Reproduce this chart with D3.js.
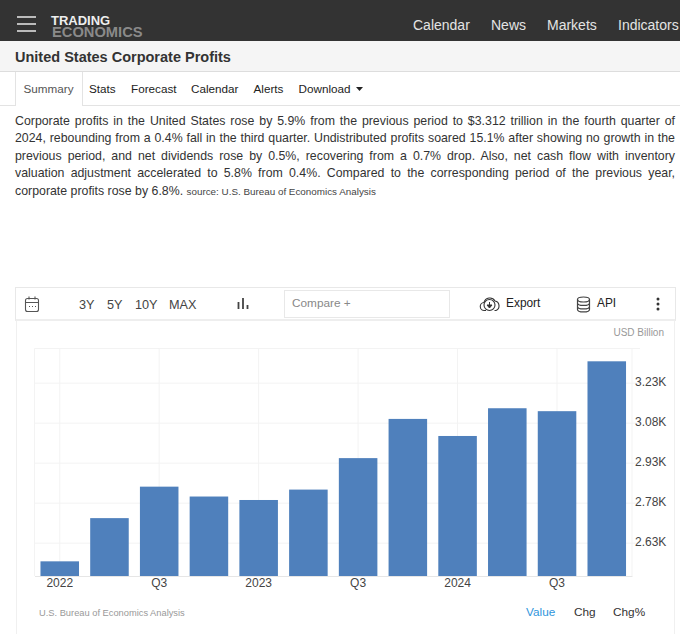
<!DOCTYPE html>
<html>
<head>
<meta charset="utf-8">
<title>United States Corporate Profits</title>
<script src="https://cdn.jsdelivr.net/npm/d3@7"></script>
<style>
	html, body { margin: 0; padding: 0; background: #fff; overflow: hidden; }
	body { font-family: "Liberation Sans", Arial, sans-serif; color: #333; }
	#page { position: relative; width: 680px; height: 634px; overflow: hidden; }
	#page > div, #page > svg, .abs { position: absolute; }
	.abs { white-space: nowrap; }
	#nav { left: 0; top: 0; width: 680px; height: 41px; background: #333; }
	#titleBar { left: 0; top: 41px; width: 680px; height: 30px; background: #f5f5f5; border-bottom: 1px solid #ddd; }
	#tabBar { left: 0; top: 72px; width: 680px; height: 33px; border-bottom: 1px solid #e3e3e3; }
	#activeTab { left: 15px; top: 72px; width: 66px; height: 34px; background: #fff; border-left: 1px solid #e3e3e3; border-right: 1px solid #e3e3e3; }
	#summary { left: 15px; top: 112.5px; width: 660px; font-size: 12.35px; line-height: 17.5px; text-align: justify; color: #333; }
	#summary span { font-size: 9.85px; color: #444; }
	#toolbar { left: 15px; top: 287px; width: 659px; height: 31px; border: 1px solid #e8e8e8; border-bottom: 2px solid #eee; box-sizing: content-box; }
	#compare { left: 284px; top: 290px; width: 164px; height: 26px; border: 1px solid #e8e8e8; }
	#chartBox { left: 16px; top: 320px; width: 657px; height: 314px; border-left: 1px solid #f0f0f0; border-right: 1px solid #f0f0f0; }
</style>
</head>
<body>
<div id="page">
	<div id="nav"></div>
	<div id="titleBar"></div>
	<div id="tabBar"></div>
	<div id="activeTab"></div>
	<div id="summary">Corporate profits in the United States rose by 5.9% from the previous period to $3.312 trillion in the fourth quarter of 2024, rebounding from a 0.4% fall in the third quarter. Undistributed profits soared 15.1% after showing no growth in the previous period, and net dividends rose by 0.5%, recovering from a 0.7% drop. Also, net cash flow with inventory valuation adjustment accelerated to 5.8% from 0.4%. Compared to the corresponding period of the previous year, corporate profits rose by 6.8%. <span>source: U.S. Bureau of Economics Analysis</span></div>
	<div id="chartBox"></div>
	<div id="toolbar"></div>
	<div id="compare"></div>
	<svg id="chart" width="680" height="634" style="left:0;top:0"></svg>
</div>
<script>
// Corporate profits, USD billion
var quarters = ['2022', '2022Q2', '2022Q3', '2022Q4', '2023', '2023Q2', '2023Q3', '2023Q4', '2024', '2024Q2', '2024Q3', '2024Q4'];
var profits = [2562, 2724, 2842, 2805, 2792, 2831, 2949, 3096, 3032, 3136, 3125, 3312];

var tickQuarters = ['2022', '2022Q3', '2023', '2023Q3', '2024', '2024Q3'];
var tickLabels = ['2022', 'Q3', '2023', 'Q3', '2024', 'Q3'];
var yTicks = [2630, 2780, 2930, 3080, 3230];
var yTickLabels = ['2.63K', '2.78K', '2.93K', '3.08K', '3.23K'];

var navLinks = [['Calendar', 413], ['News', 491], ['Markets', 547], ['Indicators', 618]];
var tabs = [['Summary', 23.5, '#555'], ['Stats', 89, '#222'], ['Forecast', 131, '#222'], ['Calendar', 191, '#222'], ['Alerts', 253.5, '#222'], ['Download', 298.5, '#222']];
var ranges = [['3Y', 79], ['5Y', 107], ['10Y', 135], ['MAX', 169]];
var modes = [['Value', 526, '#2f95dc'], ['Chg', 574, '#333'], ['Chg%', 613, '#333']];

var svg = d3.select('#chart');

var x = d3.scaleBand()
	.domain(quarters)
	.range([34.5, 632])
	.paddingInner(0.225)
	.paddingOuter(0.12);

var y = d3.scaleLinear()
	.domain([2507, 3360])
	.range([576, 348.5]);

function label(text, xPos, yPos, size, color, weight) {
	return svg.append('text')
		.attr('x', xPos)
		.attr('y', yPos)
		.attr('font-size', size)
		.attr('fill', color)
		.attr('font-weight', weight || 'normal')
		.text(text);
}

// Page furniture
[17, 24, 31].forEach(function(lineY) {
	svg.append('rect').attr('x', 17).attr('y', lineY - 1).attr('width', 19).attr('height', 2).attr('fill', '#bbb');
});
label('TRADING', 51, 24.5, 13, '#eee', 'bold');
label('ECONOMICS', 52, 36.5, 14.7, '#8a8a8a', 'bold');
navLinks.forEach(function(d) { label(d[0], d[1], 30, 14, '#e4e4e4'); });
label('United States Corporate Profits', 15, 62, 14.5, '#333', 'bold');
tabs.forEach(function(d) { label(d[0], d[1], 92.5, 11.7, d[2]); });
svg.append('path').attr('d', 'M356 87h7l-3.5 4z').attr('fill', '#222');

// Toolbar
ranges.forEach(function(d) { label(d[0], d[1], 308.5, 12.7, '#444'); });
label('Compare +', 292, 306.5, 11.8, '#888');
label('Export', 506, 307, 11.9, '#222');
label('API', 597, 307, 11.9, '#222');

var calendar = svg.append('g').attr('fill', 'none').attr('stroke', '#555').attr('stroke-width', 1.1);
calendar.append('rect').attr('x', 25.5).attr('y', 298.5).attr('width', 13).attr('height', 13).attr('rx', 2);
calendar.append('path').attr('d', 'M25.5 302.5h13M29 296.5v3M35 296.5v3M29 306.5h1M32 306.5h1M35 306.5h1');

svg.append('path').attr('d', 'M238.5 309v-7M243 309v-11M247.5 309v-4').attr('stroke', '#444').attr('stroke-width', 1.8).attr('fill', 'none');

var cloud = svg.append('g').attr('fill', 'none').attr('stroke', '#333').attr('stroke-width', 1.1);
cloud.append('path').attr('d', 'M486 310.5h-1.5a4 4 0 0 1-.5-8a6 6 0 0 1 11-1.5a5 5 0 0 1 1 9.5h-1.5');
svg.append('circle').attr('cx', 489.5).attr('cy', 305).attr('r', 5.5).attr('fill', '#fff').attr('stroke', '#333').attr('stroke-width', 1.1);
svg.append('path').attr('d', 'M489.5 302v4M487 305h5l-2.5 3z').attr('stroke', '#333').attr('stroke-width', 1).attr('fill', '#333');

var db = svg.append('g').attr('fill', 'none').attr('stroke', '#444').attr('stroke-width', 1.2);
db.append('ellipse').attr('cx', 583.5).attr('cy', 299.5).attr('rx', 6).attr('ry', 2.5);
db.append('path').attr('d', 'M577.5 299.5v10c0 3.3 12 3.3 12 0v-10M577.5 303c0 3.3 12 3.3 12 0M577.5 306.5c0 3.3 12 3.3 12 0');

[299, 304, 309].forEach(function(dotY) {
	svg.append('circle').attr('cx', 658).attr('cy', dotY).attr('r', 1.5).attr('fill', '#333');
});

label('USD Billion', 664, 336, 10, '#999').attr('text-anchor', 'end');

// Grid
var grid = svg.append('g').attr('stroke', '#f3f3f3').attr('stroke-width', 1);
grid.selectAll('line.h')
	.data(yTicks.concat([y.domain()[1]]))
	.enter().append('line')
	.attr('class', 'h')
	.attr('x1', 34.5)
	.attr('x2', 640)
	.attr('y1', function(d) { return y(d); })
	.attr('y2', function(d) { return y(d); });
grid.selectAll('line.v')
	.data(tickQuarters)
	.enter().append('line')
	.attr('class', 'v')
	.attr('x1', function(d) { return x(d) + x.bandwidth() / 2; })
	.attr('x2', function(d) { return x(d) + x.bandwidth() / 2; })
	.attr('y1', 348.5)
	.attr('y2', 576);
grid.selectAll('line.edge')
	.data([34.5, 632])
	.enter().append('line')
	.attr('class', 'edge')
	.attr('x1', function(d) { return d; })
	.attr('x2', function(d) { return d; })
	.attr('y1', 348.5)
	.attr('y2', 576);

// Bars
svg.selectAll('rect.bar')
	.data(profits)
	.enter().append('rect')
	.attr('class', 'bar')
	.attr('x', function(d, i) { return x(quarters[i]); })
	.attr('y', function(d) { return y(d); })
	.attr('width', x.bandwidth())
	.attr('height', function(d) { return y.range()[0] - y(d); })
	.attr('fill', '#4f80bc');

// Axes
var xAxis = d3.axisBottom(x)
	.tickValues(tickQuarters)
	.tickSize(0)
	.tickPadding(2)
	.tickFormat(function(d) { return tickLabels[tickQuarters.indexOf(d)]; });

var yAxis = d3.axisRight(y)
	.tickValues(yTicks)
	.tickSize(0)
	.tickPadding(3)
	.tickFormat(function(d) { return yTickLabels[yTicks.indexOf(d)]; });

var gx = svg.append('g')
	.attr('transform', 'translate(0,576)')
	.call(xAxis);
gx.select('.domain').attr('stroke', '#e6e6e6');
gx.selectAll('text').attr('font-size', 12).attr('font-family', 'Liberation Sans').attr('fill', '#444');

var gy = svg.append('g')
	.attr('transform', 'translate(632,-1.5)')
	.call(yAxis);
gy.select('.domain').remove();
gy.selectAll('text').attr('font-size', 12).attr('font-family', 'Liberation Sans').attr('fill', '#444');

// Footer
label('U.S. Bureau of Economics Analysis', 39, 615.5, 9.3, '#999');
modes.forEach(function(d) { label(d[0], d[1], 616, 11.8, d[2]); });
</script>
</body>
</html>
